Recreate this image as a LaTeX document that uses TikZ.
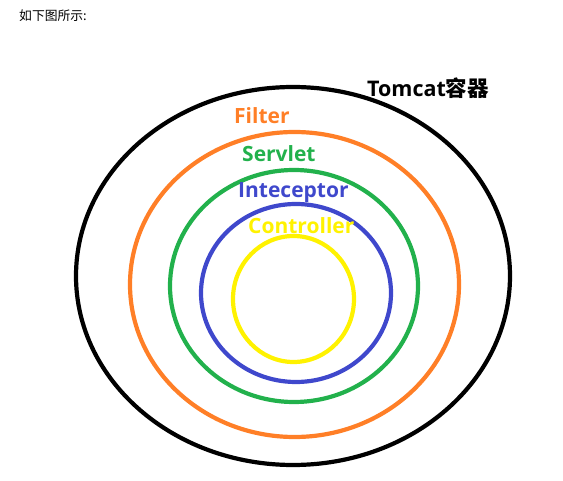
\documentclass[tikz,border=0pt]{standalone}
\usepackage{fontspec}
\setmainfont{Open Sans}
\newfontfamily\cjk{Noto Sans CJK SC}
\usepackage{tikz}
\usetikzlibrary{positioning}
\definecolor{colTomcat}{RGB}{0,0,0}
\definecolor{colFilter}{RGB}{255,127,39}
\definecolor{colServlet}{RGB}{34,177,76}
\definecolor{colInter}{RGB}{63,72,204}
\definecolor{colCtrl}{RGB}{255,242,0}
\tikzset{
  ring/.style  = {line width=4.2pt},
  lbl/.style   = {anchor=base west, inner sep=0pt,
                  font=\fontsize{21}{25}\selectfont\bfseries},
}

\begin{document}
\begin{tikzpicture}[x=1pt, y=1pt]
\useasboundingbox (0,0) rectangle (563,-481);

%% ── Caption ───────────────────────────────────────────────
\node[anchor=west, inner sep=0pt, font=\cjk\fontsize{12.8}{14}\selectfont]
  (caption) at (19,-16) {如下图所示:};

%% ── Rings ─────────────────────────────────────────────────
\draw[ring, draw=colTomcat]  (293,-276) ellipse [x radius=217,   y radius=189];
\draw[ring, draw=colFilter]  (294.5,-284.5) ellipse [x radius=164.5, y radius=152.5];
\draw[ring, draw=colServlet] (294,-286) ellipse [x radius=124,   y radius=116];
\draw[ring, draw=colInter]   (296,-293) ellipse [x radius=95,    y radius=89];
\draw[ring, draw=colCtrl]    (293.5,-299) ellipse [x radius=60.5, y radius=63];

%% ── Labels ────────────────────────────────────────────────
\node[lbl, text=colTomcat, font=\fontsize{21.5}{25}\selectfont\bfseries]
  (tomcat) at (367,-97) {Tomcat{\cjk\bfseries 容器}};
\node[lbl, text=colFilter]  (filter)  at (234,-124) {Filter};
\node[lbl, text=colServlet] (servlet) at (242,-161.5) {Servlet};
\node[lbl, text=colInter]   (inter)   at (238,-197.5) {Inteceptor};
\node[lbl, text=colCtrl]    (ctrl)    at (248,-233.5) {Controller};

\end{tikzpicture}
\end{document}
